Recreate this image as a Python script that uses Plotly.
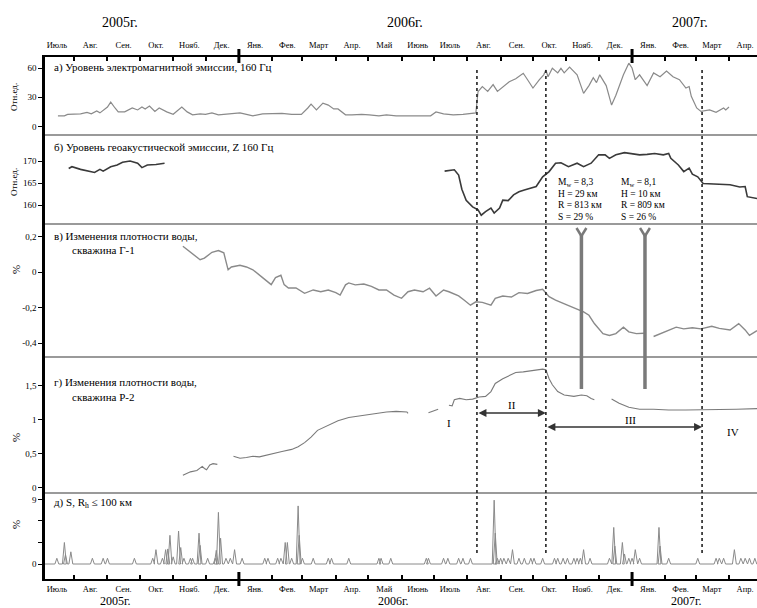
import plotly.graph_objects as go
import pandas as pd

FONT = "Liberation Serif"
X_RANGE = ["2005-07-05", "2007-04-27"]

# ---------------- axis labels ----------------
month_starts = ["2005-08-01", "2005-09-01", "2005-10-01", "2005-11-01", "2005-12-01",
                "2006-01-01", "2006-02-01", "2006-03-01", "2006-04-01", "2006-05-01",
                "2006-06-01", "2006-07-01", "2006-08-01", "2006-09-01", "2006-10-01",
                "2006-11-01", "2006-12-01", "2007-01-01", "2007-02-01", "2007-03-01",
                "2007-04-01"]
month_mids = ["2005-07-16", "2005-08-16", "2005-09-16", "2005-10-16", "2005-11-16", "2005-12-16",
              "2006-01-16", "2006-02-15", "2006-03-16", "2006-04-16", "2006-05-16", "2006-06-16",
              "2006-07-16", "2006-08-16", "2006-09-16", "2006-10-16", "2006-11-16", "2006-12-16",
              "2007-01-16", "2007-02-15", "2007-03-16", "2007-04-16"]
month_labels = ["Июль", "Авг.", "Сен.", "Окт.", "Нояб.", "Дек.",
                "Янв.", "Фев.", "Март", "Апр.", "Май", "Июнь",
                "Июль", "Авг.", "Сен.", "Окт.", "Нояб.", "Дек.",
                "Янв.", "Фев.", "Март", "Апр."]
year_boundaries = ["2006-01-01", "2007-01-01"]
year_labels = ["2005г.", "2006г.", "2007г."]

# ---------------- a) electromagnetic emission ----------------
em_dates = ["2005-07-17", "2005-07-23", "2005-07-26", "2005-08-07", "2005-08-13", "2005-08-17",
            "2005-08-22", "2005-08-25", "2005-09-01", "2005-09-04", "2005-09-08", "2005-09-11",
            "2005-09-17", "2005-09-24", "2005-09-29", "2005-10-03", "2005-10-06", "2005-10-10",
            "2005-10-15", "2005-10-19", "2005-10-26", "2005-11-01", "2005-11-09", "2005-11-14",
            "2005-11-19", "2005-11-26", "2005-12-01", "2005-12-07", "2005-12-13", "2005-12-22",
            "2006-01-02", "2006-01-08", "2006-01-14", "2006-01-23", "2006-02-01", "2006-02-10",
            "2006-02-19", "2006-02-28", "2006-03-06", "2006-03-09", "2006-03-14", "2006-03-20",
            "2006-03-25", "2006-03-30", "2006-04-03", "2006-04-10", "2006-04-16", "2006-04-25",
            "2006-05-02", "2006-05-11", "2006-05-18", "2006-05-27", "2006-06-28", "2006-07-03",
            "2006-07-10", "2006-07-19", "2006-07-28", "2006-08-06", "2006-08-09", "2006-08-11",
            "2006-08-15", "2006-08-20", "2006-08-25", "2006-08-29", "2006-09-04", "2006-09-09",
            "2006-09-15", "2006-09-22", "2006-09-26", "2006-10-01", "2006-10-07", "2006-10-11",
            "2006-10-13", "2006-10-15", "2006-10-19", "2006-10-24", "2006-10-27", "2006-10-30",
            "2006-11-04", "2006-11-11", "2006-11-17", "2006-11-22", "2006-11-26", "2006-11-29",
            "2006-12-02", "2006-12-08", "2006-12-13", "2006-12-17", "2006-12-24", "2006-12-29",
            "2007-01-01", "2007-01-04", "2007-01-08", "2007-01-15", "2007-01-21", "2007-01-27",
            "2007-02-02", "2007-02-08", "2007-02-14", "2007-02-20", "2007-02-23", "2007-02-25",
            "2007-03-02", "2007-03-06", "2007-03-14", "2007-03-20", "2007-03-27", "2007-03-29",
            "2007-04-01"]
em_vals = [11, 11, 12.5, 13, 14.5, 13,
           16, 14, 20, 25, 19, 15,
           15, 19, 17, 20, 18, 21,
           15.5, 19, 15, 12.5, 20, 15,
           12, 13, 12.5, 14, 12, 13,
           14, 12.5, 11, 13, 13, 13.5,
           12.5, 12.5, 19, 23, 17, 24,
           22, 18, 18, 12, 12, 12.5,
           12, 11, 12, 11, 11, 15,
           13, 12, 12.5, 13.5, 14, 35.7,
           41, 36, 43, 36, 41, 46,
           49, 54.6, 48, 39.5, 48, 53,
           58, 51, 59.7, 55, 59.7, 55,
           61, 53, 34, 42, 50, 45,
           53, 42, 22, 32, 53, 65,
           60, 48, 53, 42, 55, 51,
           57, 51, 48, 39.5, 41, 31,
           19, 15.5, 17, 14.5, 19, 17,
           20]

# ---------------- б) geoacoustic emission ----------------
ga_dates = ["2005-07-27", "2005-07-30", "2005-08-07", "2005-08-14", "2005-08-20", "2005-08-25",
            "2005-08-28", "2005-09-04", "2005-09-10", "2005-09-15", "2005-09-22", "2005-09-29",
            "2005-10-03", "2005-10-08", "2005-10-16", "2005-10-24", "2006-01-01",
            "2006-07-11", "2006-07-20", "2006-07-24", "2006-07-27", "2006-07-31", "2006-08-06",
            "2006-08-11", "2006-08-14", "2006-08-18", "2006-08-23", "2006-08-26", "2006-08-31",
            "2006-09-03", "2006-09-08", "2006-09-13", "2006-09-18", "2006-09-23", "2006-10-04",
            "2006-10-10", "2006-10-16", "2006-10-22", "2006-10-27", "2006-11-03", "2006-11-11",
            "2006-11-17", "2006-11-24", "2006-12-01", "2006-12-07", "2006-12-11", "2006-12-17",
            "2006-12-25", "2007-01-03", "2007-01-08", "2007-01-15", "2007-01-22", "2007-01-30",
            "2007-02-04", "2007-02-06", "2007-02-13", "2007-02-18", "2007-02-23", "2007-02-26",
            "2007-03-03", "2007-03-08", "2007-03-14", "2007-03-23", "2007-04-02", "2007-04-11",
            "2007-04-16", "2007-04-18", "2007-04-27"]
ga_vals = [168.3, 168.7, 168.1, 167.7, 167.4, 168.1,
           167.7, 168.7, 169.1, 169.7, 170.0, 169.5,
           168.5, 169.1, 169.2, 169.5, None,
           167.7, 168.0, 166.8, 163.6, 161.1, 159.6,
           158.9, 157.7, 158.5, 159.3, 158.2, 159.3,
           161.1, 161.0, 162.3, 163.0, 163.4, 164.2,
           166.4, 167.6, 169.5, 169.6, 168.7, 169.5,
           168.7, 169.5, 171.4, 171.4, 170.6, 171.4,
           171.9, 171.5, 171.4, 171.5, 171.7, 171.4,
           171.7, 170.6, 169.1, 167.6, 168.4, 167.0,
           166.4, 164.9, 164.8, 164.8, 164.6, 164.1,
           164.2, 161.9, 161.5]

# ---------------- в) water density, well Г-1 ----------------
g1_dates = ["2005-11-10", "2005-11-18", "2005-11-26", "2005-11-30", "2005-12-07", "2005-12-13",
            "2005-12-18", "2005-12-20", "2005-12-22", "2005-12-25", "2006-01-02", "2006-01-08",
            "2006-01-14", "2006-01-23", "2006-01-31", "2006-02-04", "2006-02-09", "2006-02-12",
            "2006-02-16", "2006-02-23", "2006-03-03", "2006-03-11", "2006-03-18", "2006-03-25",
            "2006-04-01", "2006-04-05", "2006-04-10", "2006-04-13", "2006-04-19", "2006-04-27",
            "2006-05-04", "2006-05-11", "2006-05-18", "2006-05-25", "2006-06-01", "2006-06-07",
            "2006-06-13", "2006-06-21", "2006-06-27", "2006-07-03", "2006-07-10", "2006-07-15",
            "2006-07-24", "2006-07-29", "2006-08-04", "2006-08-09", "2006-08-15", "2006-08-23",
            "2006-08-27", "2006-09-03", "2006-09-11", "2006-09-18", "2006-09-26", "2006-10-04",
            "2006-10-10", "2006-10-16", "2006-10-22", "2006-11-02", "2006-11-11", "2006-11-17",
            "2006-11-22", "2006-11-27", "2006-12-05", "2006-12-11", "2006-12-17", "2006-12-24",
            "2006-12-29", "2007-01-05", "2007-01-12", "2007-01-16", "2007-01-21", "2007-01-27",
            "2007-02-04", "2007-02-11", "2007-02-18", "2007-02-26", "2007-03-06", "2007-03-16",
            "2007-03-23", "2007-04-02", "2007-04-10", "2007-04-16", "2007-04-20", "2007-04-27"]
g1_vals = [0.147, 0.11, 0.071, 0.08, 0.113, 0.123,
           0.11, 0.062, 0.014, 0.03, 0.04, 0.03,
           0.014, -0.03, -0.07, -0.03, -0.017, -0.07,
           -0.089, -0.089, -0.119, -0.10, -0.11, -0.10,
           -0.115, -0.129, -0.071, -0.06, -0.071, -0.066,
           -0.08, -0.10, -0.10, -0.129, -0.147, -0.11,
           -0.10, -0.11, -0.09, -0.134, -0.10, -0.11,
           -0.134, -0.157, -0.186, -0.167, -0.17, -0.186,
           -0.147, -0.134, -0.14, -0.115, -0.12, -0.103,
           -0.096, -0.138, -0.157, -0.186, -0.21, -0.224,
           -0.243, -0.29, -0.347, -0.357, -0.347, -0.31,
           -0.337, -0.347, -0.345, None, -0.363, -0.347,
           -0.329, -0.31, -0.32, -0.314, -0.32, -0.305,
           -0.317, -0.326, -0.29, -0.326, -0.357, -0.33]

# ---------------- г) water density, well Р-2 ----------------
p2_dates = ["2005-11-10", "2005-11-17", "2005-11-23", "2005-11-28", "2005-11-30", "2005-12-02",
            "2005-12-05", "2005-12-08", "2005-12-12", "2005-12-20",
            "2005-12-27", "2006-01-02", "2006-01-08", "2006-01-14", "2006-01-20", "2006-01-27",
            "2006-02-01", "2006-02-10", "2006-02-19", "2006-02-25", "2006-03-03", "2006-03-09",
            "2006-03-15", "2006-03-25", "2006-04-03", "2006-04-13", "2006-04-22", "2006-05-02",
            "2006-05-08", "2006-05-18", "2006-05-27", "2006-06-06", "2006-06-07", "2006-06-16",
            "2006-06-26", "2006-07-05", "2006-07-10",
            "2006-07-15", "2006-07-18", "2006-07-20", "2006-07-25", "2006-07-31", "2006-08-06",
            "2006-08-12", "2006-08-18", "2006-08-23", "2006-08-27", "2006-09-03", "2006-09-09",
            "2006-09-15", "2006-09-22", "2006-09-27", "2006-10-04", "2006-10-10", "2006-10-13",
            "2006-10-16", "2006-10-19", "2006-10-24", "2006-10-30", "2006-11-08", "2006-11-15",
            "2006-11-20", "2006-11-24", "2006-11-27", "2006-12-05",
            "2006-12-13", "2006-12-20", "2006-12-29", "2007-01-08", "2007-01-21", "2007-02-04",
            "2007-02-20", "2007-03-08", "2007-03-23", "2007-04-08", "2007-04-27"]
p2_vals = [0.18, 0.23, 0.25, 0.31, 0.28, 0.26,
           0.33, 0.35, 0.34, None,
           0.46, 0.43, 0.44, 0.46, 0.45, 0.48,
           0.50, 0.53, 0.56, 0.60, 0.66, 0.74,
           0.84, 0.92, 0.98, 1.03, 1.05, 1.07,
           1.09, 1.11, 1.12, 1.11, 1.09, None,
           1.10, 1.15, None,
           1.21, 1.20, 1.29, 1.31, 1.29, 1.30,
           1.33, 1.34, 1.41, 1.53, 1.60, 1.65,
           1.69, 1.70, 1.71, 1.73, 1.74, 1.73,
           1.60, 1.51, 1.41, 1.36, 1.34, 1.36,
           1.35, 1.31, 1.29, None,
           1.30, 1.24, 1.18, 1.15, 1.15, 1.14,
           1.14, 1.14, 1.15, 1.15, 1.16]

# ---------------- д) S, Rh <= 100 km ----------------
s_dates = ["2005-07-16", "2005-07-23", "2005-07-24", "2005-07-29", "2005-08-18", "2005-08-28",
           "2005-09-01", "2005-09-26", "2005-10-13", "2005-10-16", "2005-10-22", "2005-10-25",
           "2005-10-27", "2005-10-29", "2005-11-01", "2005-11-06", "2005-11-08", "2005-11-11",
           "2005-11-17", "2005-11-19", "2005-11-25", "2005-11-26", "2005-12-03", "2005-12-10",
           "2005-12-11", "2005-12-13", "2005-12-15", "2005-12-20", "2005-12-24", "2005-12-28",
           "2006-01-04", "2006-01-25", "2006-01-28", "2006-02-06", "2006-02-09", "2006-02-13",
           "2006-02-15", "2006-02-19", "2006-02-25", "2006-02-26", "2006-03-01", "2006-03-11",
           "2006-03-25", "2006-03-28", "2006-04-13", "2006-05-11", "2006-05-13", "2006-05-22",
           "2006-06-24", "2006-06-26", "2006-07-10", "2006-07-14", "2006-07-24", "2006-07-28",
           "2006-08-04", "2006-08-26", "2006-08-27", "2006-08-29", "2006-09-01", "2006-09-04",
           "2006-09-08", "2006-09-12", "2006-09-18", "2006-09-23", "2006-09-29", "2006-10-02",
           "2006-10-10", "2006-10-21", "2006-10-24", "2006-10-29", "2006-11-02", "2006-11-08",
           "2006-11-11", "2006-11-14", "2006-11-17", "2006-11-23", "2006-12-11", "2006-12-15",
           "2006-12-16", "2006-12-23", "2006-12-25", "2006-12-29", "2007-01-01", "2007-01-04",
           "2007-01-08", "2007-01-26", "2007-01-27", "2007-02-04", "2007-03-03", "2007-03-20",
           "2007-03-23", "2007-03-27", "2007-04-06", "2007-04-12", "2007-04-16", "2007-04-20",
           "2007-04-25"]
s_vals = [0.8, 3.0, 1.3, 1.7, 0.8, 0.8,
          0.8, 0.8, 0.8, 2.0, 0.8, 2.0,
          2.1, 4.0, 1.0, 4.6, 2.3, 0.8,
          0.8, 0.8, 4.3, 2.6, 0.8, 0.8,
          1.9, 7.2, 3.6, 0.8, 0.8, 2.0,
          0.8, 0.8, 0.8, 0.8, 0.8, 3.0,
          3.0, 0.8, 8.1, 4.0, 0.8, 0.8,
          0.8, 0.8, 0.8, 0.8, 0.8, 0.8,
          0.8, 0.8, 0.8, 0.8, 0.8, 0.8,
          0.8, 8.9, 4.3, 0.8, 0.8, 0.8,
          0.8, 2.0, 0.8, 0.8, 0.8, 0.8,
          0.8, 0.8, 0.8, 0.8, 0.8, 0.8,
          0.8, 0.8, 2.0, 0.8, 0.8, 5.1,
          2.5, 3.0, 1.4, 0.8, 0.8, 2.0,
          0.8, 5.1, 2.5, 0.8, 0.8, 0.8,
          0.8, 0.8, 2.0, 0.8, 0.8, 0.8,
          0.8]

# ---------------- events ----------------
stage_bounds = ["2006-08-10", "2006-10-13", "2007-03-07"]
quake_dates = ["2006-11-15", "2007-01-13"]
quake_info = [["M<sub>w</sub> = 8,3", "H = 29 км", "R = 813 км", "S = 29 %"],
              ["M<sub>w</sub> = 8,1", "H = 10 км", "R = 809 км", "S = 26 %"]]

# ---------------- layout helpers (pixels -> paper) ----------------
L, R, T, B, W, H = 45, 757, 57, 579, 757, 608
def px(x):
    return (x - L) / (R - L)
def py(y):
    return (B - y) / (B - T)

domains = [(py(135), 1.0), (py(224), py(135)), (py(357), py(224)), (py(493), py(357)), (0.0, py(493))]
ranges = [(-8.7, 71.3), (155.7, 175.9), (-0.479, 0.273), (-0.081, 1.919), (-2.09, 9.9)]
tickvals = [[0, 30, 60], [160, 165, 170], [-0.4, -0.2, 0, 0.2], [0, 0.5, 1, 1.5], [0, 9]]
ticktext = [["0", "30", "60"], ["160", "165", "170"], ["-0,4", "-0,2", "0", "0,2"],
            ["0", "0,5", "1", "1,5"], ["0", "9"]]
s_minor_ticks = [3, 6]

fig = go.Figure()

fig.add_trace(go.Scatter(x=em_dates, y=em_vals, mode="lines", xaxis="x", yaxis="y",
                         line=dict(color="#8a8a8a", width=1.2), connectgaps=False))
fig.add_trace(go.Scatter(x=ga_dates, y=ga_vals, mode="lines", xaxis="x", yaxis="y2",
                         line=dict(color="#3a3a3a", width=1.6), connectgaps=False))
fig.add_trace(go.Scatter(x=g1_dates, y=g1_vals, mode="lines", xaxis="x", yaxis="y3",
                         line=dict(color="#8a8a8a", width=1.4), connectgaps=False))
fig.add_trace(go.Scatter(x=p2_dates, y=p2_vals, mode="lines", xaxis="x", yaxis="y4",
                         line=dict(color="#7a7a7a", width=1.1), connectgaps=False))

# spikes for panel д built from event list
sd = pd.to_datetime(s_dates)
half = pd.Timedelta(days=1.8)
sx = [pd.Timestamp(X_RANGE[0])]
sy = [0]
for d, v in sorted(zip(sd, s_vals)):
    sx += [d - half, d, d + half]
    sy += [0, v, 0]
sx.append(pd.Timestamp(X_RANGE[1]))
sy.append(0)
fig.add_trace(go.Scatter(x=sx, y=sy, mode="lines", xaxis="x", yaxis="y5",
                         line=dict(color="#8a8a8a", width=1.0)))
fig.add_trace(go.Scatter(x=[], y=[], xaxis="x2", yaxis="y", showlegend=False))

axis_font = dict(family=FONT, size=9, color="black")
month_font = dict(family=FONT, size=8.5, color="black")
xcommon = dict(type="date", range=X_RANGE, tickmode="array", tickvals=month_mids, ticktext=month_labels,
               ticks="outside", tickcolor="rgba(0,0,0,0)", showgrid=False, zeroline=False,
               showline=True, linecolor="black", linewidth=2, tickfont=month_font,
               minor=dict(tickmode="array", tickvals=month_starts, ticks="inside", ticklen=4,
                          tickwidth=1.5, tickcolor="black", showgrid=False))
layout = dict(
    width=W, height=H, showlegend=False,
    paper_bgcolor="white", plot_bgcolor="white",
    margin=dict(l=L, r=W - R, t=T, b=H - B, pad=0),
    font=dict(family=FONT, color="black"),
    hovermode=False,
    xaxis=dict(anchor="y5", side="bottom", ticklen=1, **xcommon),
    xaxis2=dict(anchor="y", side="top", overlaying="x", ticklen=4, **xcommon),
)
names = ["yaxis", "yaxis2", "yaxis3", "yaxis4", "yaxis5"]
for i, n in enumerate(names):
    layout[n] = dict(domain=list(domains[i]), range=list(ranges[i]), anchor="x",
                     tickmode="array", tickvals=tickvals[i], ticktext=ticktext[i],
                     ticks="outside", ticklen=4, tickwidth=1, tickcolor="black",
                     showline=True, linecolor="black", linewidth=2.5,
                     showgrid=False, zeroline=False, tickfont=axis_font)
layout["yaxis5"]["minor"] = dict(tickmode="array", tickvals=s_minor_ticks, ticks="outside",
                                 ticklen=4, tickwidth=1, tickcolor="black", showgrid=False)
fig.update_layout(**layout)

shapes = []
# separators between panels
for yy in [domains[0][0], domains[1][0], domains[2][0], domains[3][0]]:
    shapes.append(dict(type="line", xref="paper", yref="paper", x0=0, x1=1, y0=yy, y1=yy,
                       line=dict(color="#9a9a9a", width=2)))
# thick year ticks
for d in year_boundaries:
    shapes.append(dict(type="line", xref="x", yref="paper", x0=d, x1=d, y0=py(572), y1=py(586),
                       line=dict(color="black", width=3)))
    shapes.append(dict(type="line", xref="x", yref="paper", x0=d, x1=d, y0=py(49), y1=py(63),
                       line=dict(color="black", width=3)))
# dotted stage boundaries
for d, top in zip(stage_bounds, [68, 70, 70]):
    shapes.append(dict(type="line", xref="x", yref="paper", x0=d, x1=d, y0=py(553), y1=py(top),
                       line=dict(color="#222", width=1.6, dash="dot")))
# earthquake markers (fork + bar)
for d in quake_dates:
    t = pd.Timestamp(d)
    dl = str(t - pd.Timedelta(days=4.6))
    dr = str(t + pd.Timedelta(days=4.6))
    shapes.append(dict(type="line", xref="x", yref="paper", x0=d, x1=d, y0=py(389), y1=py(235),
                       line=dict(color="#7a7a7a", width=3.5)))
    shapes.append(dict(type="line", xref="x", yref="paper", x0=dl, x1=d, y0=py(228), y1=py(236),
                       line=dict(color="#7a7a7a", width=2.5)))
    shapes.append(dict(type="line", xref="x", yref="paper", x0=dr, x1=d, y0=py(228), y1=py(236),
                       line=dict(color="#7a7a7a", width=2.5)))
fig.update_layout(shapes=shapes)

ann = []
def txt(x, y, s, size=11, xanchor="left", angle=0):
    ann.append(dict(x=px(x), y=py(y), xref="paper", yref="paper", text=s, showarrow=False,
                    xanchor=xanchor, yanchor="middle", textangle=angle, borderpad=0,
                    font=dict(family=FONT, size=size, color="black")))

# year labels
for xx, s in zip([120, 405, 690], year_labels):
    txt(xx, 22, s, size=14, xanchor="center")
for xx, s in zip([115, 393, 686], year_labels):
    txt(xx, 600.5, s, size=12, xanchor="center")

# panel titles
txt(53, 68, "а) Уровень электромагнитной эмиссии, 160 Гц")
txt(53, 147, "б) Уровень геоакустической эмиссии, Z 160 Гц")
txt(53, 236, "в) Изменения плотности воды,")
txt(71, 250, "скважина Г-1")
txt(53, 383, "г) Изменения плотности воды,")
txt(71, 397, "скважина Р-2")
txt(53, 503, "д) S, R<sub>h</sub> ≤ 100 км")

# y titles
txt(14, 97, "Отн.ед.", size=9, xanchor="center", angle=-90)
txt(14, 182, "Отн.ед.", size=9, xanchor="center", angle=-90)
txt(16, 270, "%", size=11, xanchor="center", angle=-90)
txt(16, 438, "%", size=11, xanchor="center", angle=-90)
txt(16, 525, "%", size=11, xanchor="center", angle=-90)

# earthquake parameters
for xx, lines in zip([557, 620], quake_info):
    for yy, s in zip([182, 194, 205, 217], lines):
        txt(xx, yy, s, size=9.5)

# stage labels
txt(449, 423, "I", size=11, xanchor="center")
txt(512, 405, "II", size=11, xanchor="center")
txt(630, 420, "III", size=11, xanchor="center")
txt(733, 432, "IV", size=11, xanchor="center")

# stage arrows in panel г
ann.append(dict(x=stage_bounds[1], y=1.096, ax=stage_bounds[0], ay=1.096, xref="x", yref="y4",
                axref="x", ayref="y4", text="", showarrow=True, arrowside="end+start",
                arrowhead=2, arrowsize=1, arrowwidth=1.6, arrowcolor="#333"))
ann.append(dict(x=stage_bounds[2], y=0.89, ax=stage_bounds[1], ay=0.89, xref="x", yref="y4",
                axref="x", ayref="y4", text="", showarrow=True, arrowside="end+start",
                arrowhead=2, arrowsize=1, arrowwidth=1.6, arrowcolor="#333"))
fig.update_layout(annotations=ann)

fig.write_html("out.html", config={"displayModeBar": False},
               post_script="document.body.style.margin='0px';")
